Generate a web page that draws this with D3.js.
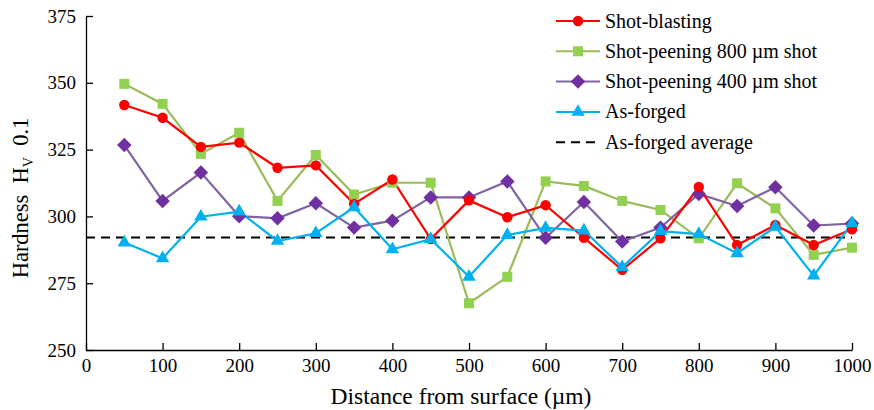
<!DOCTYPE html>
<html><head><meta charset="utf-8">
<script src="https://cdn.jsdelivr.net/npm/d3@7"></script>
<style>body{margin:0;background:#fff}svg{display:block}text{font-family:"Liberation Serif","Times New Roman",serif;fill:#000;white-space:pre}</style>
</head><body><svg id="c" width="874" height="410"></svg>
<script>
const distances = [50,100,150,200,250,300,350,400,450,500,550,600,650,700,750,800,850,900,950,1000];
const shotBlasting = [341.7,336.9,326,327.6,318.2,319.1,304.7,313.8,291.5,306,299.7,304.2,292,280,291.8,311,289.3,296.8,289.3,295.2];
const peening800 = [349.6,342.1,323.4,331.3,305.8,323,308.2,312.6,312.6,267.5,277.4,313.1,311.4,305.8,302.4,291.8,312.4,303,285.6,288.3];
const peening400 = [326.7,305.8,316.4,300.1,299.3,304.9,295.8,298.4,307.1,307.1,313.1,292,305.4,290.6,295.8,308.4,303.9,310.9,296.6,297.3];
const asForged = [290.2,284.3,299.9,301.8,290.8,293.7,303.4,287.7,291.5,277.4,293,295.7,294.7,281,294.5,293.4,286.2,296.1,277.8,297.4];
const asForgedAverage = 292.1;
const xTicks = [0,100,200,300,400,500,600,700,800,900,1000];
const yTicks = [250,275,300,325,350,375];
const seriesNames = ["Shot-blasting","Shot-peening 800 \u00b5m shot","Shot-peening 400 \u00b5m shot","As-forged","As-forged average"];

const svg = d3.select("#c");
const x = d3.scaleLinear().domain([0,1000]).range([86,852]);
const y = d3.scaleLinear().domain([250,375]).range([350,16]);

// axes
const xAxis = svg.append("g").attr("transform","translate(0,350)")
  .call(d3.axisBottom(x).tickValues(xTicks).tickFormat(d3.format("d")).tickSizeInner(-7).tickSizeOuter(0).tickPadding(9));
const yAxis = svg.append("g").attr("transform","translate(86,0)")
  .call(d3.axisLeft(y).tickValues(yTicks).tickFormat(d3.format("d")).tickSizeInner(-7).tickSizeOuter(0).tickPadding(10));
[xAxis,yAxis].forEach(a=>{
  a.selectAll("path,line").attr("stroke","#000").attr("stroke-width",1.3);
  a.selectAll("text").style("font-family","Liberation Serif").style("font-size","19px").attr("fill","#000");
});

// average line
svg.append("line").attr("x1",x(0)).attr("x2",x(1000)).attr("y1",y(asForgedAverage)).attr("y2",y(asForgedAverage))
  .attr("stroke","#000").attr("stroke-width",2).attr("stroke-dasharray","9,6");

const diamond = {draw(ctx,size){const r=Math.sqrt(size/2);ctx.moveTo(0,-r);ctx.lineTo(r,0);ctx.lineTo(0,r);ctx.lineTo(-r,0);ctx.closePath();}};
const series = [
  {name:seriesNames[1], vals:peening800, line:"#9BBB59", fill:"#92D050", shape:d3.symbolSquare, size:100},
  {name:seriesNames[2], vals:peening400, line:"#8064A2", fill:"#7030A0", shape:diamond, size:105},
  {name:seriesNames[0], vals:shotBlasting, line:"#FF0000", fill:"#FF0000", shape:d3.symbolCircle, size:85},
  {name:seriesNames[3], vals:asForged, line:"#00B0F0", fill:"#00B0F0", shape:d3.symbolTriangle, size:78},
];
const lineGen = d3.line().x((d,i)=>x(distances[i])).y(d=>y(d));
series.forEach(s=>{
  svg.append("path").datum(s.vals).attr("d",lineGen).attr("fill","none").attr("stroke",s.line).attr("stroke-width",2.2);
});
series.forEach(s=>{
  svg.append("g").selectAll("path").data(s.vals).join("path")
    .attr("d",d3.symbol().type(s.shape).size(s.size))
    .attr("transform",(d,i)=>`translate(${x(distances[i])},${y(d)})`)
    .attr("fill",s.fill);
});

// legend
const leg = [
  {name:seriesNames[0], line:"#FF0000", fill:"#FF0000", shape:d3.symbolCircle, size:85},
  {name:seriesNames[1], line:"#9BBB59", fill:"#92D050", shape:d3.symbolSquare, size:100},
  {name:seriesNames[2], line:"#8064A2", fill:"#7030A0", shape:diamond, size:105},
  {name:seriesNames[3], line:"#00B0F0", fill:"#00B0F0", shape:d3.symbolTriangle, size:78},
  {name:seriesNames[4], line:"#000", dashed:true},
];
leg.forEach((l,i)=>{
  const yy = 21 + i*30.3;
  const g = svg.append("g");
  g.append("line").attr("x1",556).attr("x2",600).attr("y1",yy).attr("y2",yy)
    .attr("stroke",l.line).attr("stroke-width",2).attr("stroke-dasharray",l.dashed?"9,6":null);
  if(l.shape) g.append("path").attr("d",d3.symbol().type(l.shape).size(l.size)).attr("transform",`translate(578,${yy})`).attr("fill",l.fill);
  g.append("text").attr("x",605).attr("y",yy+6.5).style("font-size","20px").text(l.name);
});

// axis titles
svg.append("text").attr("x",461).attr("y",404).attr("text-anchor","middle").style("font-size","23.5px").text("Distance from surface (\u00b5m)");
const yt = svg.append("text").attr("transform","translate(28,198) rotate(-90)").attr("text-anchor","middle").style("font-size","22.5px");
yt.append("tspan").text("Hardness  H");
yt.append("tspan").attr("dy",5).style("font-size","14px").text("V");
yt.append("tspan").attr("dy",-5).text("  0.1");
</script></body></html>
